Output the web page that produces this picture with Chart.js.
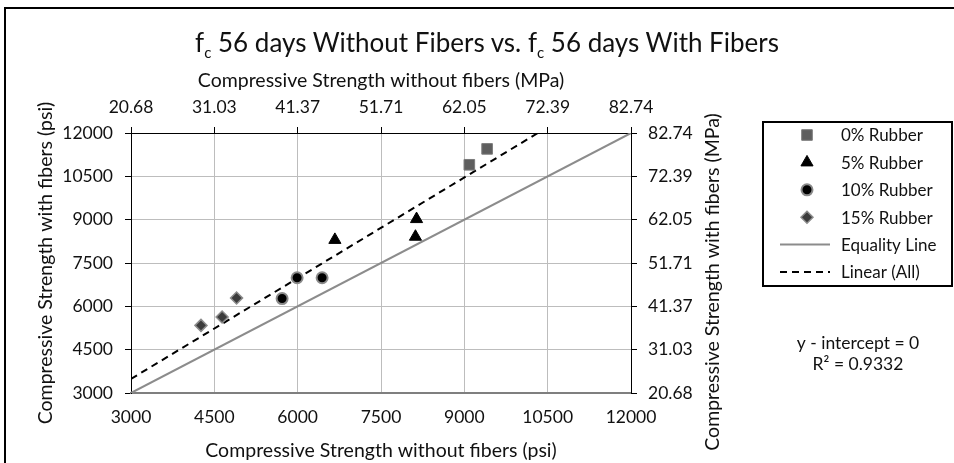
<!DOCTYPE html>
<html>
<head>
<meta charset="utf-8">
<script src="https://cdn.jsdelivr.net/npm/chart.js@4.4.1/dist/chart.umd.min.js"></script>
<style>
  html, body { margin: 0; padding: 0; background: #fff; }
  #wrap { position: relative; width: 954px; height: 463px; overflow: hidden; }
  #frame { position: absolute; left: 4px; top: 7px; width: 1000px; height: 500px; border: 2px solid #000; box-sizing: border-box; }
  #title { position: absolute; left: 0; top: 27px; width: 974px; text-align: center; font-family: Lato, sans-serif; font-size: 26px; line-height: 30px; color: #111; white-space: nowrap; }
  #title sub { font-size: 15px; line-height: 0; }
  canvas { position: absolute; left: 0; top: 0; }
</style>
</head>
<body>
<div id="wrap">
  <div id="frame"></div>
  <canvas id="fcChart" width="954" height="463"></canvas>
  <div id="title">f<sub>c</sub> 56 days Without Fibers vs. f<sub>c</sub> 56 days With Fibers</div>
</div>
<script>
const psiTicks = [3000, 4500, 6000, 7500, 9000, 10500, 12000];
const mpaTicks = ["20.68", "31.03", "41.37", "51.71", "62.05", "72.39", "82.74"];

// strength without fibers (x) vs. with fibers (y), psi
const rubber0Without = [9090, 9410];
const rubber0With = [10900, 11450];
const rubber5Without = [6670, 8140, 8120];
const rubber5With = [8300, 9020, 8410];
const rubber10Without = [5720, 5990, 6440];
const rubber10With = [6270, 6990, 6990];
const rubber15Without = [4260, 4640, 4900];
const rubber15With = [5340, 5630, 6290];

const lineRange = [3000, 12000];
const rSquared = "0.9332";

function pts(xs, ys) {
  return xs.map((x, i) => ({ x: x, y: ys[i] }));
}

// linear fit through the origin (y - intercept = 0) over all points
const allX = [].concat(rubber0Without, rubber5Without, rubber10Without, rubber15Without);
const allY = [].concat(rubber0With, rubber5With, rubber10With, rubber15With);
let sxy = 0, sxx = 0;
allX.forEach((x, i) => { sxy += x * allY[i]; sxx += x * x; });
const slope = sxy / sxx;

const tickFont = { family: "Lato", size: 17.5 };
const axisTitleFont = { family: "Lato", size: 19.5 };
const textColor = "#111";
const gridColor = "#bdbdbd";

const legendPlugin = {
  id: "boxLegend",
  afterDraw(chart) {
    const ctx = chart.ctx;
    const left = 763, top = 122, w = 189, h = 164;
    ctx.save();
    ctx.strokeStyle = "#000";
    ctx.lineWidth = 2;
    ctx.strokeRect(left, top, w, h);

    const mx = 807, tx = 841;
    ctx.font = "17px Lato";
    ctx.fillStyle = textColor;
    ctx.textBaseline = "middle";
    chart.data.datasets.forEach((ds, i) => {
      const y = 135 + i * 27.4;
      ctx.save();
      if (ds.showLine) {
        ctx.strokeStyle = ds.borderColor;
        ctx.lineWidth = ds.borderWidth;
        ctx.setLineDash(ds.borderDash || []);
        ctx.beginPath();
        ctx.moveTo(780, y);
        ctx.lineTo(830, y);
        ctx.stroke();
      } else {
        ctx.fillStyle = ds.backgroundColor;
        ctx.strokeStyle = ds.borderColor;
        ctx.lineWidth = ds.borderWidth;
        Chart.helpers.drawPoint(ctx, {
          pointStyle: ds.pointStyle,
          radius: ds.pointRadius,
          borderWidth: ds.borderWidth,
          rotation: 0
        }, mx, y);
      }
      ctx.restore();
      ctx.fillText(ds.label, tx, y + 1);
    });

    // fit note
    ctx.textAlign = "center";
    ctx.font = "17.5px Lato";
    ctx.fillText("y - intercept = 0", 858, 343);
    ctx.fillText("R\u00b2 = " + rSquared, 858, 364);

    // right axis title, reading bottom to top like the left one
    ctx.translate(713, 282);
    ctx.rotate(-Math.PI / 2);
    ctx.font = "19.5px Lato";
    ctx.fillText("Compressive Strength with fibers (MPa)", 0, 0);
    ctx.restore();
  }
};

const setPsiTicks = (scale) => { scale.ticks = psiTicks.map(v => ({ value: v })); };

new Chart(document.getElementById("fcChart"), {
  type: "scatter",
  data: {
    datasets: [
      {
        label: "0% Rubber",
        data: pts(rubber0Without, rubber0With),
        pointStyle: "rect",
        pointRadius: 7.5,
        backgroundColor: "#5e5e5e",
        borderColor: "#7c7c7c",
        borderWidth: 1
      },
      {
        label: "5% Rubber",
        data: pts(rubber5Without, rubber5With),
        pointStyle: "triangle",
        pointRadius: 7,
        backgroundColor: "#000",
        borderColor: "#000",
        borderWidth: 1
      },
      {
        label: "10% Rubber",
        data: pts(rubber10Without, rubber10With),
        pointStyle: "circle",
        pointRadius: 5.5,
        backgroundColor: "#000",
        borderColor: "#8a8a8a",
        borderWidth: 2
      },
      {
        label: "15% Rubber",
        data: pts(rubber15Without, rubber15With),
        pointStyle: "rectRot",
        pointRadius: 6,
        backgroundColor: "#3c3c3c",
        borderColor: "#8c8c8c",
        borderWidth: 1.5
      },
      {
        label: "Equality Line",
        data: lineRange.map(x => ({ x: x, y: x })),
        showLine: true,
        pointRadius: 0,
        borderColor: "#8c8c8c",
        borderWidth: 2
      },
      {
        label: "Linear (All)",
        data: lineRange.map(x => ({ x: x, y: slope * x })),
        showLine: true,
        pointRadius: 0,
        borderColor: "#000",
        borderWidth: 2,
        borderDash: [7, 5]
      }
    ]
  },
  options: {
    responsive: false,
    animation: false,
    layout: { padding: { left: 34, right: 0, top: 69, bottom: 1 } },
    plugins: {
      legend: { display: false },
      tooltip: { enabled: false }
    },
    scales: {
      x: {
        type: "linear",
        position: "bottom",
        min: 3000,
        max: 12000,
        afterBuildTicks: setPsiTicks,
        afterFit: (s) => { s.height = 69; },
        grid: {
          color: (c) => (c.tick && (c.tick.value === 3000 || c.tick.value === 12000)) ? "rgba(0,0,0,0)" : gridColor,
          drawTicks: false
        },
        border: { color: "#7f7f7f", width: 2 },
        ticks: { padding: 14, font: tickFont, color: textColor, autoSkip: false, maxRotation: 0, callback: (v) => String(v) },
        title: { display: true, text: "Compressive Strength without fibers (psi)", font: axisTitleFont, color: textColor, padding: 0 }
      },
      x2: {
        type: "linear",
        position: "top",
        min: 3000,
        max: 12000,
        afterBuildTicks: setPsiTicks,
        afterFit: (s) => { s.height = 64; },
        grid: { drawOnChartArea: false, tickLength: 6, tickColor: "#000" },
        border: { color: "#000", width: 1 },
        ticks: { padding: 9, font: tickFont, color: textColor, autoSkip: false, maxRotation: 0, callback: (v, i) => mpaTicks[i] },
        title: { display: true, text: "Compressive Strength without fibers (MPa)", font: axisTitleFont, color: textColor, padding: 0 }
      },
      y: {
        type: "linear",
        position: "left",
        min: 3000,
        max: 12000,
        afterBuildTicks: setPsiTicks,
        afterFit: (s) => { s.width = 97; },
        grid: {
          color: (c) => {
            if (!c.tick) return gridColor;
            if (c.tick.value === 3000) return "rgba(0,0,0,0)";
            if (c.tick.value === 12000) return "#000";
            return gridColor;
          },
          tickLength: 6,
          tickColor: "#000"
        },
        border: { color: "#000", width: 1 },
        ticks: { padding: 12, font: tickFont, color: textColor, callback: (v) => String(v) },
        title: { display: true, text: "Compressive Strength with fibers (psi)", font: axisTitleFont, color: textColor, padding: 0 }
      },
      y2: {
        type: "linear",
        position: "right",
        min: 3000,
        max: 12000,
        afterBuildTicks: setPsiTicks,
        afterFit: (s) => { s.width = 323; },
        grid: { drawOnChartArea: false, tickLength: 6, tickColor: "#000" },
        border: { color: "#000", width: 1 },
        ticks: { padding: 11, font: tickFont, color: textColor, callback: (v, i) => mpaTicks[i] }
      }
    }
  },
  plugins: [legendPlugin]
});
</script>
</body>
</html>
